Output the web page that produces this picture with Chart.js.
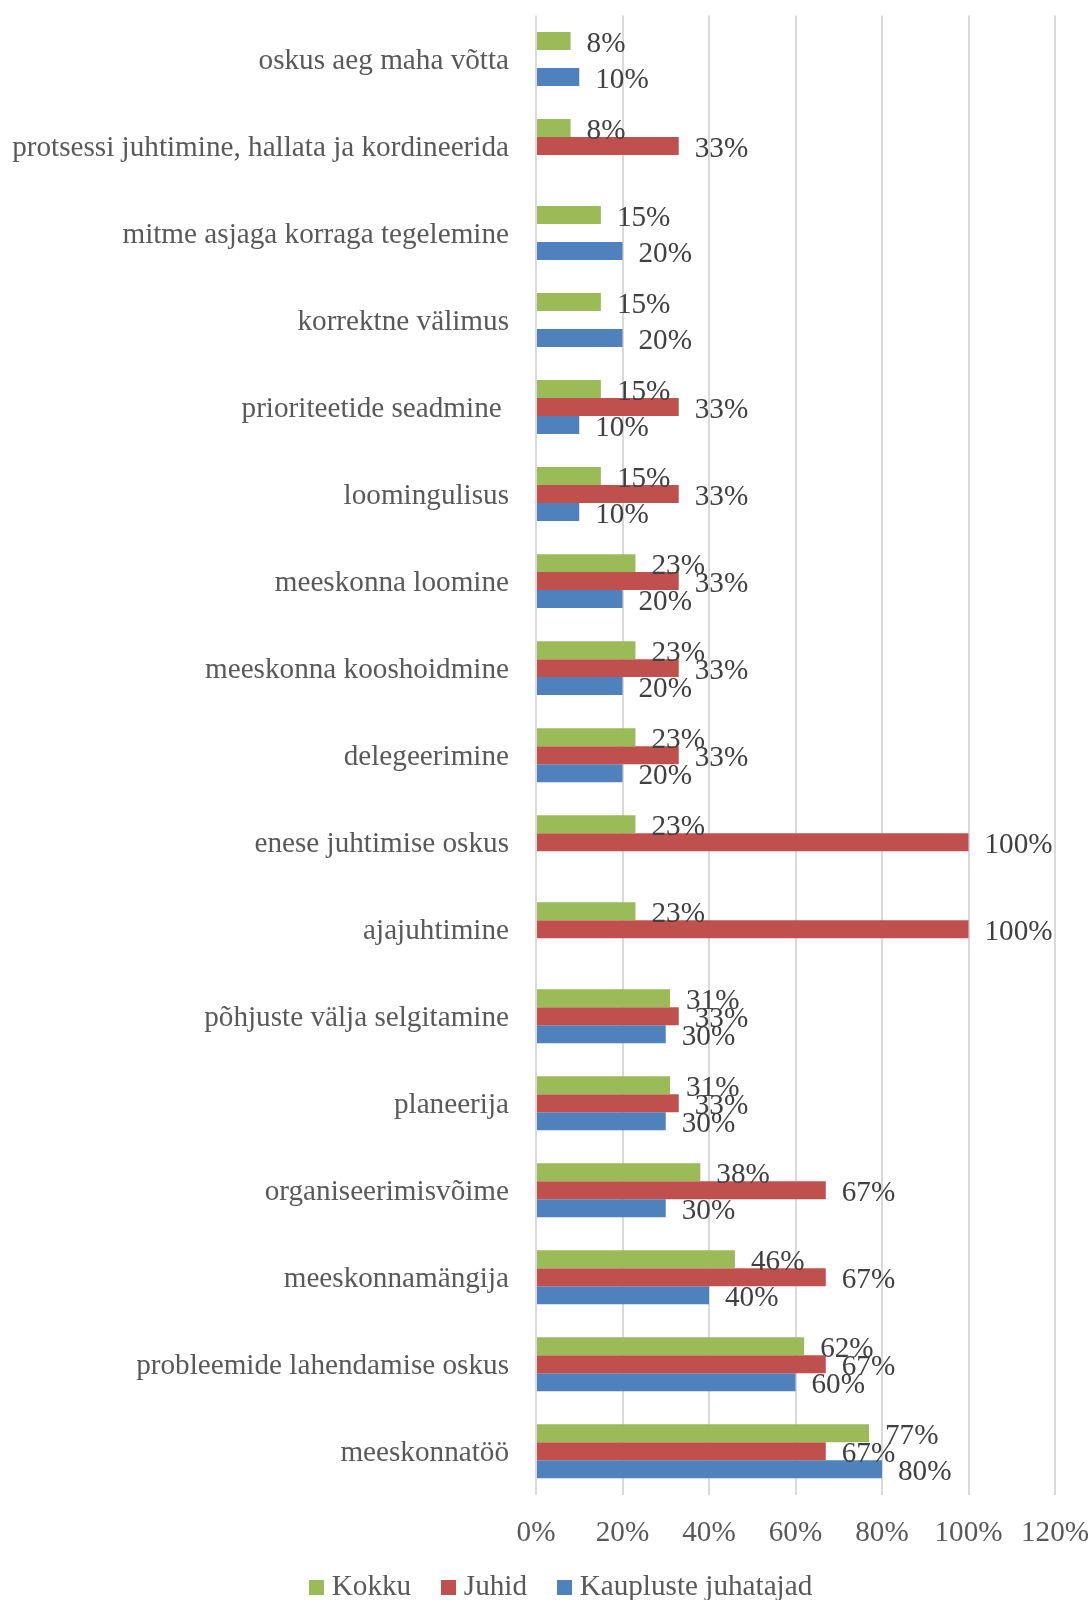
<!DOCTYPE html>
<html lang="et">
<head>
<meta charset="utf-8">
<title>Oskused</title>
<script src="https://cdn.jsdelivr.net/npm/chart.js@4.4.1/dist/chart.umd.min.js"></script>
<style>
  html, body { margin: 0; padding: 0; background: #fff; }
  #wrap { width: 1090px; height: 1600px; position: relative; }
</style>
</head>
<body>
<div id="wrap"><canvas id="chart"></canvas></div>
<script>
const categories = [
  'oskus aeg maha võtta',
  'protsessi juhtimine, hallata ja kordineerida',
  'mitme asjaga korraga tegelemine',
  'korrektne välimus',
  'prioriteetide seadmine ',
  'loomingulisus',
  'meeskonna loomine',
  'meeskonna kooshoidmine',
  'delegeerimine',
  'enese juhtimise oskus',
  'ajajuhtimine',
  'põhjuste välja selgitamine',
  'planeerija',
  'organiseerimisvõime',
  'meeskonnamängija',
  'probleemide lahendamise oskus',
  'meeskonnatöö'
];

// shares in percent, null = not mentioned by that group
const kokku = [8, 8, 15, 15, 15, 15, 23, 23, 23, 23, 23, 31, 31, 38, 46, 62, 77];
const juhid = [null, 33, null, null, 33, 33, 33, 33, 33, 100, 100, 33, 33, 67, 67, 67, 67];
const kauplusteJuhatajad = [10, null, 20, 20, 10, 10, 20, 20, 20, null, null, 30, 30, 30, 40, 60, 80];

const xTicks = [0, 20, 40, 60, 80, 100, 120];

const FONT = "'Liberation Serif', 'Times New Roman', serif";
const FONT_SIZE = 29.2;

Chart.defaults.font.family = FONT;
Chart.defaults.font.size = FONT_SIZE;
Chart.defaults.color = '#595959';

// small square legend swatch, drawn tight against the label text
function swatch(color) {
  const c = document.createElement('canvas');
  c.width = 15;
  c.height = 15;
  const g = c.getContext('2d');
  g.fillStyle = color;
  g.fillRect(0, 0, 15, 15);
  return c;
}

// percent labels just past the end of each bar
const valueLabels = {
  id: 'valueLabels',
  afterDatasetsDraw(chart) {
    const { ctx } = chart;
    ctx.save();
    ctx.font = FONT_SIZE + 'px ' + FONT;
    ctx.fillStyle = '#404040';
    ctx.textAlign = 'left';
    ctx.textBaseline = 'middle';
    chart.data.datasets.forEach((ds, i) => {
      chart.getDatasetMeta(i).data.forEach((bar, j) => {
        const v = ds.data[j];
        if (v == null) return;
        ctx.fillText(v + '%', bar.x + 16, bar.y + 3);
      });
    });
    ctx.restore();
  }
};

// legend sits a bit right of centre and close under the tick labels
const legendPlacement = {
  id: 'legendPlacement',
  afterLayout(chart) {
    const lg = chart.legend;
    if (!lg) return;
    const h = lg.height;
    lg.top = chart.chartArea.bottom + 40.8;
    lg.bottom = lg.top + h;
    lg.left += 19.2;
    lg.right += 19.2;
  }
};

new Chart(document.getElementById('chart'), {
  type: 'bar',
  data: {
    labels: categories,
    datasets: [
      { label: 'Kokku', data: kokku, backgroundColor: '#9BBB59' },
      { label: 'Juhid', data: juhid, backgroundColor: '#C0504D' },
      { label: 'Kaupluste juhatajad', data: kauplusteJuhatajad, backgroundColor: '#4F81BD' }
    ]
  },
  options: {
    indexAxis: 'y',
    responsive: true,
    maintainAspectRatio: false,
    animation: false,
    datasets: {
      bar: { categoryPercentage: 0.62, barPercentage: 1.0 }
    },
    layout: {
      padding: { left: 0, right: 0, top: 15.5, bottom: -27 }
    },
    scales: {
      x: {
        min: 0,
        max: 120,
        afterBuildTicks(scale) {
          scale.ticks = xTicks.map(v => ({ value: v }));
        },
        afterFit(scale) {
          scale.height = 56;
          scale.paddingLeft = 0;
          scale.paddingRight = 35;
        },
        grid: { color: '#d9d9d9', lineWidth: 2, drawTicks: false },
        border: { display: false },
        ticks: {
          padding: 21,
          color: '#595959',
          callback: v => v + '%'
        }
      },
      y: {
        afterFit(scale) {
          scale.width = 536;
          scale.paddingTop = 0;
          scale.paddingBottom = 0;
        },
        grid: { display: false, drawTicks: false },
        border: { display: false },
        ticks: {
          padding: 27,
          color: '#595959',
          autoSkip: false,
          font: { lineHeight: '4px' },
          // empty first line nudges the name 2px below the band centre
          callback(v) { return ['', this.getLabelForValue(v)]; }
        }
      }
    },
    plugins: {
      legend: {
        position: 'bottom',
        labels: {
          usePointStyle: true,
          pointStyleWidth: 1,
          boxHeight: 15,
          padding: 37,
          color: '#595959',
          generateLabels(chart) {
            const items = Chart.defaults.plugins.legend.labels.generateLabels(chart);
            items.forEach(item => { item.pointStyle = swatch(item.fillStyle); });
            return items;
          }
        }
      },
      tooltip: { enabled: false }
    }
  },
  plugins: [valueLabels, legendPlacement]
});
</script>
</body>
</html>
